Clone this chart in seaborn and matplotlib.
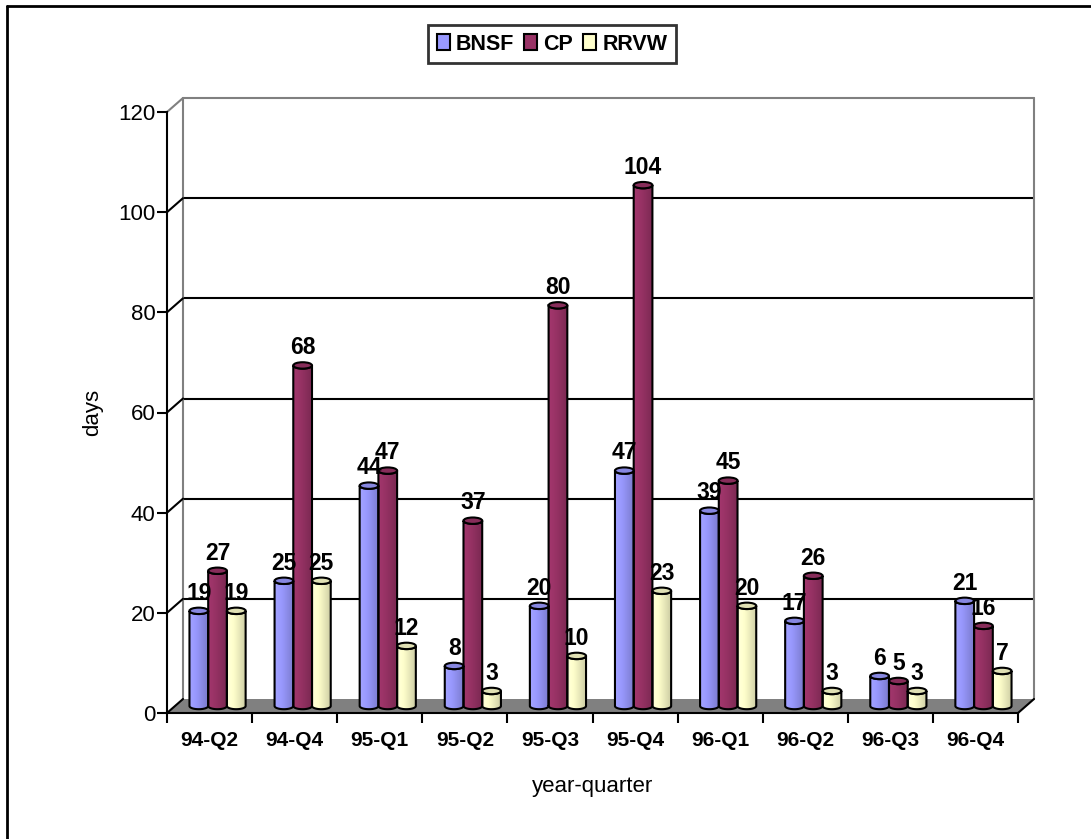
import numpy as np
import pandas as pd
import matplotlib
matplotlib.use("Agg")
import matplotlib.pyplot as plt
import matplotlib.patches as mpatches
import matplotlib.transforms as mtransforms
from matplotlib.lines import Line2D
from matplotlib.colors import to_rgb
import seaborn as sns

# ---- data -------------------------------------------------------------
quarters = ["94-Q2", "94-Q4", "95-Q1", "95-Q2", "95-Q3",
            "95-Q4", "96-Q1", "96-Q2", "96-Q3", "96-Q4"]
bnsf = [19, 25, 44, 8, 20, 47, 39, 17, 6, 21]
cp = [27, 68, 47, 37, 80, 104, 45, 26, 5, 16]
rrvw = [19, 25, 12, 3, 10, 23, 20, 3, 3, 7]
railroads = ["BNSF", "CP", "RRVW"]
colors = ["#9999FF", "#993366", "#FFFFCC"]
y_ticks = [0, 20, 40, 60, 80, 100, 120]

series = {"BNSF": bnsf, "CP": cp, "RRVW": rrvw}
df = pd.DataFrame({
    "quarter": quarters * len(railroads),
    "railroad": np.repeat(railroads, len(quarters)),
    "days": bnsf + cp + rrvw,
})

# ---- style ------------------------------------------------------------
sns.set_style("white")
plt.rcParams["font.family"] = ["Liberation Sans", "DejaVu Sans"]
plt.rcParams["text.color"] = "black"
plt.rcParams["axes.labelcolor"] = "black"
plt.rcParams["xtick.color"] = "black"
plt.rcParams["ytick.color"] = "black"

W, H = 1091, 839
fig = plt.figure(figsize=(W / 100, H / 100), dpi=100)
fig.patch.set_facecolor("white")

# front plane of the 3-D box, in pixels
L, R, B, T = 167, 1018, 713, 112
ax = fig.add_axes([L / W, 1 - B / H, (R - L) / W, (B - T) / H])
ax.set_facecolor("none")

n = len(quarters)
YMAX = y_ticks[-1]
px_x = (R - L) / n          # pixels per category
px_y = (B - T) / YMAX       # pixels per day
DX = 16 / px_x              # depth offset of the back wall (data units)
DY = 14 / px_y
E = 3.2 / px_y              # half height of the cylinder ellipses

sns.barplot(data=df, x="quarter", y="days", hue="railroad",
            order=quarters, hue_order=railroads, palette=colors,
            saturation=1, width=0.66, legend=False, ax=ax,
            edgecolor="none", linewidth=0, zorder=3)

ax.set_autoscale_on(False)
ax.set_xlim(-0.5, n - 0.5)
ax.set_ylim(0, YMAX)

GRAY = "#808080"
LW = 1.5

# floor
floor = mpatches.Polygon([(-0.5, 0), (n - 0.5, 0), (n - 0.5 + DX, DY), (-0.5 + DX, DY)],
                         closed=True, facecolor=GRAY, edgecolor="none",
                         zorder=1, clip_on=False)
ax.add_patch(floor)
ax.add_line(Line2D([n - 0.5, n - 0.5 + DX], [0, DY], color="black", lw=LW,
                   zorder=1.5, clip_on=False))

# back wall gridlines and the diagonals joining them to the front ticks
for v in y_ticks:
    c = GRAY if v == YMAX else "black"
    ax.add_line(Line2D([-0.5, -0.5 + DX], [v, v + DY], color=c, lw=LW,
                       zorder=1.5, clip_on=False))
    if v > 0:
        ax.add_line(Line2D([-0.5 + DX, n - 0.5 + DX], [v + DY, v + DY], color=c,
                           lw=LW, zorder=1.2, clip_on=False))
for xw in (-0.5 + DX, n - 0.5 + DX):
    ax.add_line(Line2D([xw, xw], [DY, YMAX + DY], color=GRAY, lw=LW,
                       zorder=1.2, clip_on=False))

# cylinders: bars sit half way into the depth of the box
mid_tf = ax.transData + mtransforms.ScaledTranslation(8 / 100, 7 / 100,
                                                      fig.dpi_scale_trans)

t = np.linspace(0, 1, 64)
shade = np.clip(1.06 - 0.26 * t ** 1.3, 0, None)
theta = np.linspace(0, np.pi, 30)

for k, (cont, name) in enumerate(zip(ax.containers, railroads)):
    base = np.array(to_rgb(colors[k]))
    grad = np.clip(base[None, :] * shade[:, None], 0, 1)[None, :, :]
    cap_col = np.clip(base * 0.88, 0, 1)
    for bar, val in zip(cont.patches, series[name]):
        bar.set_transform(mid_tf)
        x0, w, h = bar.get_x(), bar.get_width(), bar.get_height()
        xc, a = x0 + w / 2, w / 2
        # outline: sides, rounded bottom, front half of the top rim
        bottom_arc = [(xc - a * np.cos(th), -E * np.sin(th)) for th in theta]
        top_arc = [(xc + a * np.cos(th), h - E * np.sin(th)) for th in theta]
        verts = [(x0, h), (x0, 0)] + bottom_arc + [(x0 + w, h)] + top_arc
        body = mpatches.Polygon(verts, closed=True, facecolor="none",
                                edgecolor="black", lw=LW, transform=mid_tf,
                                zorder=3.2, clip_on=False)
        ax.add_patch(body)
        im = ax.imshow(grad, extent=[x0, x0 + w, -E, h], aspect="auto",
                       transform=mid_tf, zorder=3.1, interpolation="bilinear")
        im.set_clip_path(body)
        cap = mpatches.Ellipse((xc, h), w, 2 * E, facecolor=cap_col,
                               edgecolor="black", lw=LW, transform=mid_tf,
                               zorder=3.3, clip_on=False)
        ax.add_patch(cap)
        ax.annotate(f"{val}", (xc, h), xycoords=mid_tf,
                    xytext=(0, E * px_y + 8), textcoords="offset pixels",
                    ha="center", va="baseline", fontsize=16.5,
                    fontweight="bold", zorder=4, annotation_clip=False)

ax.set_xlim(-0.5, n - 0.5)
ax.set_ylim(0, YMAX)

# axes, ticks and labels
for side in ("top", "right"):
    ax.spines[side].set_visible(False)
for side in ("left", "bottom"):
    ax.spines[side].set_color("black")
    ax.spines[side].set_linewidth(LW)
    ax.spines[side].set_zorder(2)

ax.set_yticks(y_ticks)
ax.set_yticklabels([str(v) for v in y_ticks], fontsize=16)
ax.tick_params(axis="y", length=7.2, width=LW, pad=1, direction="out", left=True)

ax.set_xticks(np.arange(-0.5, n, 1.0))
ax.set_xticklabels([])
ax.set_xticks(np.arange(n), minor=True)
ax.set_xticklabels(quarters, minor=True, fontsize=15, fontweight="bold")
ax.tick_params(axis="x", which="major", length=7.2, width=LW, direction="out", bottom=True)
ax.tick_params(axis="x", which="minor", length=0, pad=13, bottom=True)

ax.set_xlabel("year-quarter", fontsize=16, labelpad=19)
ax.set_ylabel("days", fontsize=16, labelpad=11)
ax.grid(False)

# legend
handles = [mpatches.Patch(facecolor=c, edgecolor="black", lw=LW) for c in colors]
leg = fig.legend(handles, railroads, loc="center",
                 bbox_to_anchor=(552 / W, 1 - 44 / H), ncol=3,
                 frameon=True, fancybox=False, edgecolor="black",
                 prop={"size": 15.5, "weight": "bold"},
                 handlelength=0.6, handleheight=0.8, handletextpad=0.3,
                 columnspacing=0.45, borderpad=0.4)
leg.get_frame().set_linewidth(2)

# outer frame lines
fig.add_artist(Line2D([6.5 / W, 1], [1 - 5.5 / H, 1 - 5.5 / H],
                      transform=fig.transFigure, color="black", lw=2))
fig.add_artist(Line2D([6.5 / W, 6.5 / W], [0, 1 - 5.5 / H],
                      transform=fig.transFigure, color="black", lw=2))

fig.savefig("out.png", dpi=100, facecolor="white")
